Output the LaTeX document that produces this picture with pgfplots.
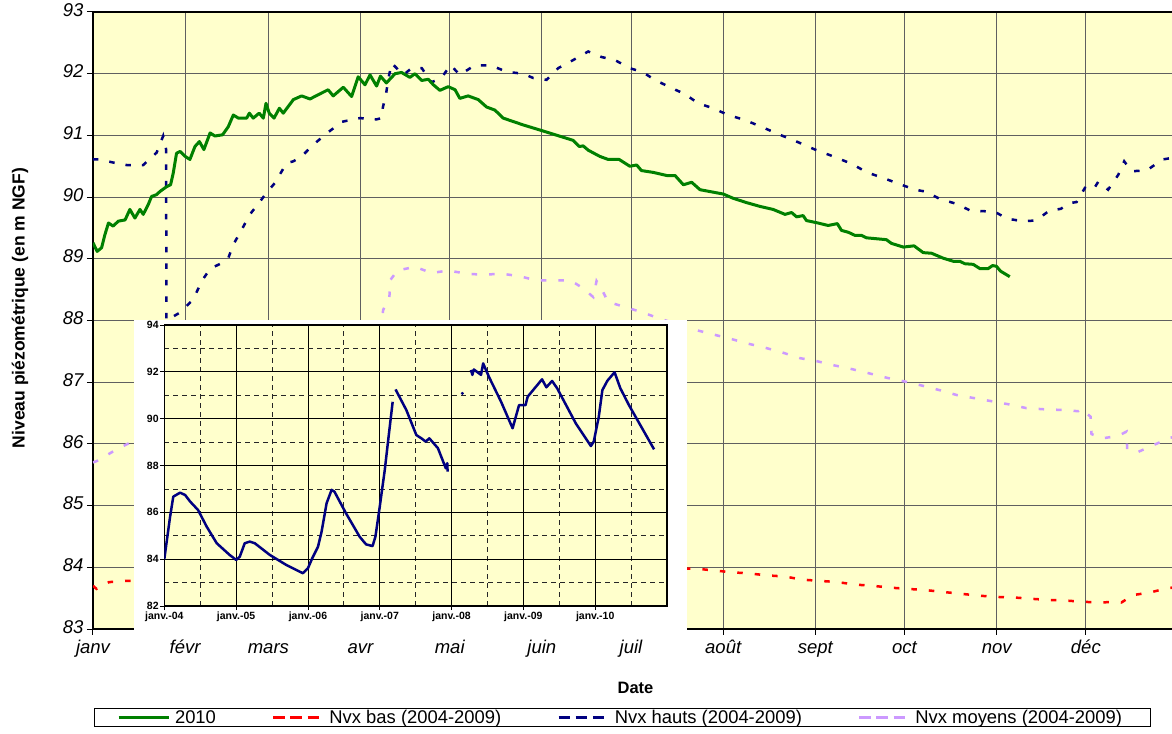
\documentclass[border=0pt]{standalone}
\usepackage{fontspec}
\setmainfont{Liberation Sans}
\usepackage{pgfplots}
\pgfplotsset{compat=1.18}
\definecolor{chartyellow}{HTML}{FFFFCC}
\definecolor{cgreen}{HTML}{008000}
\definecolor{cnavy}{HTML}{000080}
\definecolor{cred}{HTML}{FF0000}
\definecolor{clilac}{HTML}{CC99FF}
\definecolor{cgrid}{HTML}{606060}
\begin{document}
\begin{tikzpicture}
\path[use as bounding box] (-93bp,-105bp) rectangle (1079bp,629bp);
\begin{axis}[
  at={(0bp,0bp)}, anchor=south west,
  scale only axis, width=1085bp, height=617bp,
  xmin=0, xmax=365, ymin=83, ymax=93,
  axis background/.style={fill=chartyellow},
  grid=major, major grid style={color=cgrid, line width=1bp},
  axis line style={black, line width=1.5bp},
  xtick={0,31,59,90,120,151,181,212,243,273,304,334},
  xticklabels={janv,févr,mars,avr,mai,juin,juil,août,sept,oct,nov,déc},
  ytick={83,84,...,93},
  tick align=outside, tick pos=left, major tick length=6bp,
  tick style={black, line width=1bp},
  /pgf/number format/assume math mode=true,
  typeset ticklabels with strut,
  ticklabel style={font=\fontsize{18.5bp}{21bp}\selectfont\itshape},
  xlabel={Date},
  xlabel style={at={(axis description cs:0.5,-0.0956)}, anchor=center, font=\bfseries\fontsize{16.5bp}{18bp}\selectfont},
  ylabel={Niveau piézométrique (en m NGF)},
  ylabel style={at={(axis description cs:-0.0673,0.52)}, anchor=center, font=\bfseries\fontsize{17.5bp}{19bp}\selectfont},
  legend columns=4,
  legend cell align=left,
  legend image code/.code={\draw[#1] (0bp,0bp) -- (50bp,0bp);},
  legend style={at={(axis description cs:0.4876,-0.1434)}, anchor=center, draw=black, line width=1bp, fill=white,
    font=\fontsize{18.4bp}{20bp}\selectfont, inner xsep=23bp, inner ysep=0.5bp,
    nodes={inner xsep=5bp, inner ysep=1.5bp},
    /tikz/every even column/.append style={column sep=51bp}},
]
% Nvx bas
\addplot[forget plot, cred, line width=2.5bp, dash pattern=on 5.5bp off 12bp] coordinates {
(0,83.70)(1.2,83.65)(5.4,83.76)(11.3,83.78)(202.5,83.98)(208.7,83.95)(214.8,83.92)(220.8,83.90)(226.6,83.87)(232.8,83.85)(238.6,83.80)(244.5,83.78)(250.5,83.76)(256.3,83.72)(262.3,83.70)(268.3,83.67)(274.2,83.65)(280.2,83.63)(286,83.60)(292.2,83.57)(298.1,83.54)(304,83.52)(310.1,83.51)(315.5,83.49)(321.9,83.47)(327.6,83.46)(333.3,83.44)(339,83.43)(344.1,83.44)(346,83.43)(349.8,83.55)(355.5,83.59)(361.2,83.66)(365,83.68)};
% Nvx moyens
\addplot[forget plot, clilac, line width=2.5bp, dash pattern=on 5.5bp off 12bp] coordinates {
(0,85.70)(1.2,85.72)(6.5,85.87)(11.6,86.00)(97.0,87.90)(97.6,88.17)(99.7,88.38)(100.1,88.66)(102.4,88.81)(108.3,88.87)(113.9,88.77)(119.5,88.81)(125.5,88.76)(131.5,88.74)(137.1,88.76)(143.4,88.72)(149,88.65)(154.8,88.65)(160.7,88.65)(164.6,88.53)(168.3,88.38)(169.4,88.64)(171.1,88.51)(173.3,88.30)(178.9,88.22)(184.9,88.13)(190.7,88.03)(196,87.95)(202.5,87.85)(208.1,87.78)(214,87.71)(219.9,87.63)(226,87.56)(232,87.48)(237.8,87.39)(243.6,87.34)(249.6,87.27)(255.5,87.21)(261.4,87.14)(267.2,87.07)(273.2,87.01)(279.3,86.94)(284.9,86.87)(290.7,86.79)(296.7,86.74)(302.5,86.69)(308.2,86.64)(314,86.58)(320.2,86.56)(326.2,86.55)(331.4,86.53)(332.6,86.57)(335.6,86.44)(335.9,86.16)(339.6,86.09)(344.9,86.13)(347.7,86.20)(347.9,85.91)(351.6,85.87)(357.2,85.99)(362.3,86.10)(365,86.12)};
% Nvx hauts
\addplot[forget plot, cnavy, line width=2.5bp, dash pattern=on 5.5bp off 11bp] coordinates {
(0,90.61)(2.2,90.61)(6.8,90.56)(11.3,90.52)(16.9,90.52)(21.4,90.72)(23.6,90.99)(24.6,90.77)(24.7,88.0)(29.3,88.13)(33.7,88.34)(36.6,88.64)(39.4,88.84)(43.3,88.93)(45.5,89.01)(47.2,89.23)(50,89.47)(52.8,89.72)(56.2,89.93)(58.4,90.07)(61.2,90.23)(65.1,90.55)(67.4,90.58)(70.2,90.66)(74.1,90.85)(79.1,91.05)(83.7,91.22)(89.8,91.28)(95.4,91.26)(97.1,91.28)(97.5,91.45)(98.6,91.68)(99.5,91.95)(100.5,92.17)(104.4,91.98)(107.2,92.09)(110.6,92.09)(113.9,91.86)(117.3,91.94)(120.3,92.14)(123.4,91.98)(128.5,92.14)(134.1,92.13)(139.2,92.03)(144.7,92.0)(148.1,91.93)(152.6,91.90)(156.5,92.09)(161.5,92.22)(166.6,92.36)(171.1,92.27)(175.6,92.22)(180.6,92.09)(185.1,92.02)(189,91.90)(194.1,91.78)(199.1,91.67)(203.6,91.52)(208.6,91.44)(213.7,91.33)(219.3,91.25)(225.3,91.13)(231.1,91.01)(237.2,90.89)(242.9,90.77)(249,90.66)(255.2,90.54)(260.4,90.40)(265.8,90.31)(271.4,90.21)(276.5,90.12)(280,90.09)(284.9,89.97)(290.5,89.89)(295.2,89.78)(300.3,89.77)(304.2,89.74)(307.5,89.65)(312.7,89.61)(317.2,89.62)(321.7,89.78)(325.6,89.81)(328.4,89.90)(330.9,89.92)(333.7,90.15)(336.5,90.12)(338.2,90.25)(341.5,90.12)(344.9,90.36)(346.9,90.58)(349.4,90.42)(354.4,90.43)(359.8,90.61)(365,90.65)};
% 2010
\addplot[forget plot, cgreen, line width=3bp, line join=round] coordinates {
(0,89.26)(1.4,89.12)(2.9,89.18)(4,89.39)(5.2,89.58)(6.8,89.53)(8.5,89.61)(10.8,89.63)(12.4,89.80)(14.1,89.66)(15.8,89.80)(16.9,89.72)(18.6,89.88)(19.7,90.01)(21.4,90.04)(22.5,90.09)(24.8,90.17)(26.1,90.20)(27,90.39)(28.1,90.71)(29.3,90.74)(31,90.66)(32.6,90.61)(34.3,90.82)(35.8,90.90)(37.3,90.77)(39.4,91.04)(41,90.99)(43.6,91.01)(45.5,91.14)(47.2,91.33)(48.9,91.28)(51.7,91.28)(52.6,91.36)(53.9,91.28)(55.9,91.36)(57.3,91.28)(58.2,91.52)(59.3,91.36)(60.9,91.28)(62.7,91.44)(64,91.36)(67.4,91.58)(70.2,91.64)(73,91.59)(75.8,91.66)(79.1,91.74)(80.8,91.64)(84.2,91.78)(87,91.63)(89.2,91.95)(91.5,91.82)(93.2,91.98)(95.4,91.80)(96.7,91.96)(98.7,91.85)(101.6,92.0)(103.8,92.02)(106.6,91.94)(108.3,92.0)(110.6,91.89)(112.8,91.91)(114.5,91.82)(116.7,91.73)(119.5,91.79)(121.8,91.74)(123.4,91.60)(126.2,91.64)(129.6,91.58)(132.4,91.46)(135.2,91.41)(138,91.28)(144.7,91.17)(151.5,91.07)(161.5,90.92)(163.6,90.82)(164.9,90.83)(166.6,90.76)(170.5,90.66)(173.3,90.61)(177,90.61)(180.6,90.50)(182.9,90.52)(184.5,90.43)(188.5,90.40)(193,90.35)(195.8,90.35)(198.6,90.20)(201.4,90.24)(204.2,90.12)(207.5,90.09)(212,90.05)(215.4,89.98)(219.9,89.91)(224.3,89.85)(228.8,89.80)(232.8,89.72)(235,89.75)(236.7,89.68)(238.9,89.70)(240,89.62)(243.9,89.58)(247.3,89.54)(250.4,89.57)(251.8,89.46)(254.1,89.43)(256.3,89.38)(258.5,89.38)(260.2,89.34)(266.9,89.31)(268.6,89.25)(272.6,89.19)(276.2,89.21)(279.3,89.10)(282.1,89.09)(286,89.01)(289.4,88.96)(291.6,88.96)(293.3,88.92)(296.1,88.91)(298.4,88.84)(301.1,88.84)(302.6,88.89)(303.9,88.88)(305.3,88.80)(308.4,88.71)};
\addlegendimage{cgreen, line width=3bp}
\addlegendentry{2010}
\addlegendimage{cred, line width=2.5bp, dash pattern=on 11.5bp off 5.7bp}
\addlegendentry{Nvx bas (2004-2009)}
\addlegendimage{cnavy, line width=2.5bp, dash pattern=on 11.5bp off 5.7bp}
\addlegendentry{Nvx hauts (2004-2009)}
\addlegendimage{clilac, line width=2.5bp, dash pattern=on 11.5bp off 5.7bp}
\addlegendentry{Nvx moyens (2004-2009)}
\end{axis}
\fill[white] (41bp,-7bp) rectangle (594bp,309bp);
\begin{axis}[
  at={(71.3bp,23bp)}, anchor=south west,
  scale only axis, width=502.7bp, height=281bp,
  xmin=2004, xmax=2011, ymin=82, ymax=94,
  axis background/.style={fill=chartyellow},
  xtick={2004,2005,2006,2007,2008,2009,2010},
  xticklabels={janv.-04,janv.-05,janv.-06,janv.-07,janv.-08,janv.-09,janv.-10},
  ytick={82,84,...,94},
  minor xtick={2004.5,2005.5,2006.5,2007.5,2008.5,2009.5,2010.5},
  minor ytick={83,85,...,93},
  grid=both,
  major grid style={black, line width=0.8bp},
  minor grid style={black!85, line width=0.8bp, dash pattern=on 5bp off 4bp},
  tick align=outside, tick pos=left, major tick length=4bp, minor tick length=0bp,
  tick style={black, line width=0.8bp},
  axis line style={black, line width=1.5bp},
  /pgf/number format/assume math mode=true,
  ticklabel style={font=\bfseries\fontsize{10.5bp}{12bp}\selectfont, inner sep=1.5bp},
  unbounded coords=jump,
]
\addplot[cnavy, line width=2.5bp, line join=round] coordinates {
(2004.0,84.0)(2004.08,85.8)(2004.125,86.67)(2004.22,86.84)(2004.29,86.74)(2004.36,86.46)(2004.47,86.1)(2004.59,85.39)(2004.73,84.68)(2004.91,84.18)(2005.0,83.97)(2005.05,84.1)(2005.12,84.68)(2005.19,84.75)(2005.26,84.68)(2005.47,84.18)(2005.70,83.75)(2005.93,83.40)(2006.0,83.61)(2006.06,84.04)(2006.14,84.53)(2006.19,85.17)(2006.26,86.39)(2006.33,86.96)(2006.37,86.88)(2006.53,85.96)(2006.72,84.96)(2006.81,84.63)(2006.90,84.56)(2006.94,84.96)(2007.0,86.24)(2007.07,87.81)(2007.11,88.88)(2007.18,90.72)
(2007.2,nan)
(2007.22,91.25)(2007.37,90.37)(2007.51,89.30)(2007.58,89.16)(2007.64,89.02)(2007.69,89.16)(2007.81,88.74)(2007.92,87.88)(2007.94,88.1)(2007.945,87.74)
(2008.1,nan)
(2008.27,92.08)(2008.29,91.87)(2008.31,92.1)(2008.41,91.87)(2008.44,92.36)(2008.52,91.79)(2008.69,90.72)(2008.85,89.59)(2008.94,90.58)(2009.03,90.58)(2009.06,90.94)(2009.26,91.68)(2009.32,91.34)(2009.40,91.61)(2009.47,91.30)(2009.73,89.80)(2009.94,88.83)(2009.98,89.02)(2010.05,90.08)(2010.10,91.22)(2010.17,91.62)(2010.27,91.98)(2010.35,91.30)(2010.47,90.58)(2010.82,88.69)};
\addplot[cnavy, only marks, mark=*, mark size=1.3bp] coordinates {(2008.15,91.08)};
\end{axis}
\end{tikzpicture}
\end{document}
